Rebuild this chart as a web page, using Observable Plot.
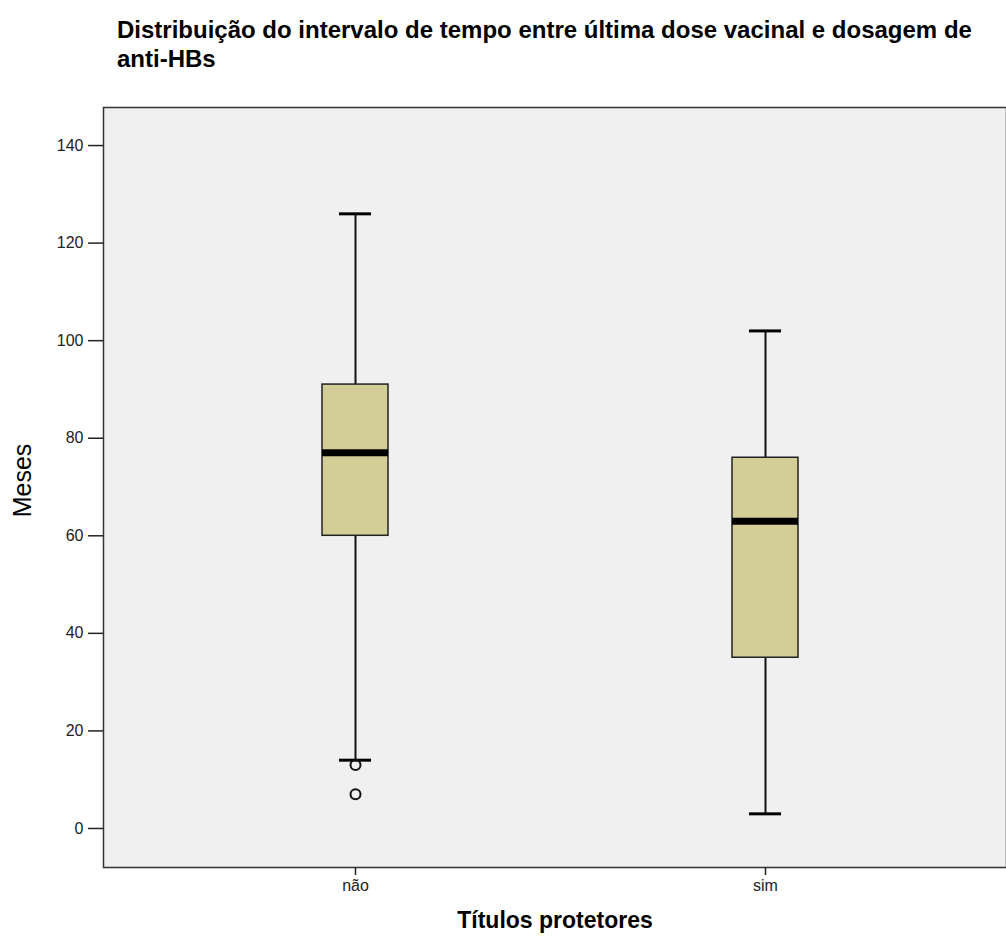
<!DOCTYPE html>
<html>
<head>
<meta charset="utf-8">
<script src="https://cdn.jsdelivr.net/npm/d3@7"></script>
<script src="https://cdn.jsdelivr.net/npm/@observablehq/plot@0.6"></script>
<style>
  html, body { margin: 0; padding: 0; background: #fff; }
  #title { box-sizing: border-box; height: 100px; padding: 15px 0 0 117px; font: bold 24px "Liberation Sans", Arial, sans-serif; line-height: 29px; color: #000; width: 1006px; }
  #chart svg { display: block; }
</style>
</head>
<body>
<div id="title">Distribuição do intervalo de tempo entre última dose vacinal e dosagem de<br>anti-HBs</div>
<div id="chart"></div>
<script>
const categories = ["não", "sim"];
const whiskerLow = [14, 3];
const q1 = [60, 35];
const median = [77, 63];
const q3 = [91, 76];
const whiskerHigh = [126, 102];
const outlierCats = ["não", "não"];
const outlierValues = [13, 7];
const yTicks = [0, 20, 40, 60, 80, 100, 120, 140];

const boxes = categories.map((c, i) => ({cat: c, low: whiskerLow[i], q1: q1[i], med: median[i], q3: q3[i], high: whiskerHigh[i]}));
const outliers = outlierCats.map((c, i) => ({cat: c, v: outlierValues[i]}));

const font = '"Liberation Sans", Arial, sans-serif';

const chart = Plot.plot({
  width: 1006,
  height: 836,
  marginTop: 7,
  marginBottom: 69,
  marginLeft: 103,
  marginRight: 0,
  style: {fontFamily: font, background: "#fff", color: "#000"},
  x: {type: "band", domain: categories, range: [321, 798], paddingInner: 0.8394, paddingOuter: 0, label: null},
  y: {domain: [-8, 147.8], label: null},
  marks: [
    Plot.frame({fill: "#f0f0f0", stroke: "#333", strokeWidth: 1.5}),
    Plot.axisY({ticks: yTicks, tickSize: 15, tickPadding: 5, fontSize: 16, tickFormat: d => String(d), stroke: "#222", strokeWidth: 1.5, color: "#222"}),
    Plot.axisX({tickSize: 8, tickPadding: 4, fontSize: 16, stroke: "#222", strokeWidth: 1.5, color: "#222"}),
    Plot.ruleX(boxes, {x: "cat", y1: "low", y2: "q1", stroke: "#111", strokeWidth: 2}),
    Plot.ruleX(boxes, {x: "cat", y1: "q3", y2: "high", stroke: "#111", strokeWidth: 2}),
    Plot.tickY(boxes, {x: "cat", y: "low", insetLeft: 17, insetRight: 17, stroke: "#000", strokeWidth: 3}),
    Plot.tickY(boxes, {x: "cat", y: "high", insetLeft: 17, insetRight: 17, stroke: "#000", strokeWidth: 3}),
    Plot.barY(boxes, {x: "cat", y1: "q1", y2: "q3", fill: "#d3ce97", stroke: "#222", strokeWidth: 1.5}),
    Plot.tickY(boxes, {x: "cat", y: "med", stroke: "#000", strokeWidth: 7}),
    Plot.dot(outliers, {x: "cat", y: "v", r: 5, stroke: "#111", strokeWidth: 2, fill: "none"}),
    Plot.text(["Meses"], {frameAnchor: "left", dx: -81, dy: -7, rotate: -90, textAnchor: "middle", lineAnchor: "middle", fontSize: 25, fill: "#000", fontFamily: font}),
    Plot.text(["Títulos protetores"], {frameAnchor: "bottom", dy: 53, lineAnchor: "middle", fontSize: 23, fontWeight: "bold", fill: "#000", fontFamily: font})
  ]
});
document.getElementById("chart").appendChild(chart);
</script>
</body>
</html>
